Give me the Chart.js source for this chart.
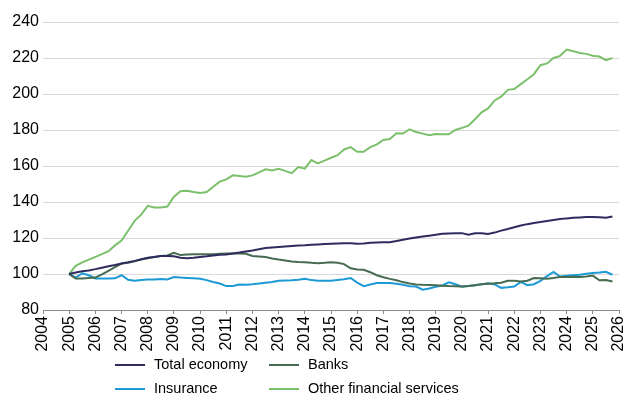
<!DOCTYPE html>
<html>
<head>
<meta charset="utf-8">
<script src="https://cdn.jsdelivr.net/npm/chart.js@4.4.1/dist/chart.umd.min.js"></script>
<style>
  html, body { margin: 0; padding: 0; background: #fff; }
  #wrap { width: 631px; height: 396px; }
</style>
</head>
<body>
<div id="wrap"><canvas id="chart"></canvas></div>
<script>
// quarterly index, 2005 Q1 = 100
var quarters = [];
for (var yr = 2005; yr <= 2025; yr++) {
  for (var q = 0; q < 4; q++) quarters.push(yr + q / 4);
}

var totalEconomy = [
  100, 100.8, 101.5, 102, 102.7, 103.5, 104.3, 105, 105.8, 106.5, 107.3, 108.2,
  109, 109.5, 110, 110, 109.8, 109, 108.7, 109, 109.4, 109.8, 110.3, 110.7,
  110.9, 111.4, 111.9, 112.5, 113.1, 113.8, 114.4, 114.7, 115, 115.3, 115.6, 115.9,
  116, 116.2, 116.4, 116.6, 116.8, 117, 117.1, 117.1, 116.8, 117, 117.3, 117.5,
  117.6, 117.7, 118.3, 119, 119.7, 120.3, 120.8, 121.3, 121.8, 122.3, 122.5, 122.7,
  122.7, 121.8, 122.6, 122.7, 122.2, 123, 124.1, 125, 126, 126.9, 127.7, 128.3,
  128.9, 129.5, 130, 130.5, 130.9, 131.2, 131.4, 131.6, 131.7, 131.5, 131.3, 132
];
var banks = [
  100, 97.5, 97.5, 97.8, 98, 99.8, 101.8, 103.8, 105.8, 106.3, 107, 108,
  108.8, 109.5, 110, 110.3, 111.8, 110.5, 110.8, 111, 111, 111, 111, 111.2,
  111.4, 111.4, 111.4, 111.2, 110, 109.7, 109.4, 108.6, 108, 107.5, 107, 106.7,
  106.5, 106.2, 106, 106.2, 106.5, 106.2, 105.5, 103.2, 102.5, 102.3, 101, 99.3,
  98.2, 97.3, 96.5, 95.5, 94.7, 94.2, 94, 93.9, 93.8, 93.5, 93.3, 93.2,
  93.1, 93.3, 93.8, 94.3, 94.6, 94.8, 95.1, 96.2, 96.2, 95.8, 96.3, 97.8,
  97.6, 97.3, 97.8, 98.4, 98.4, 98.5, 98.4, 98.6, 99.1, 96.5, 96.6, 95.8
];
var insurance = [
  100, 98, 100.4, 99.3, 97.5, 97.5, 97.5, 97.6, 99.3, 96.8, 96.3, 96.7,
  97, 97, 97.2, 97, 98.3, 98, 97.8, 97.6, 97.4, 96.6, 95.6, 94.7,
  93.3, 93.4, 94.1, 94, 94.3, 94.7, 95.2, 95.6, 96.2, 96.4, 96.5, 96.8,
  97.4, 96.6, 96.3, 96.2, 96.2, 96.7, 97.1, 97.8, 95.2, 93.2, 94.2, 95,
  95, 95, 94.6, 94, 93.2, 93, 91.3, 92, 92.9, 93.6, 95.4, 94.3,
  92.9, 93.3, 93.8, 94.3, 94.8, 94.2, 92.3, 92.6, 93, 95.6, 93.8, 94.3,
  96.2, 98.8, 101.2, 98.6, 99, 99.3, 99.6, 100.2, 100.5, 100.8, 101.2, 99.6
];
var otherFinancial = [
  100, 104.5, 106.5, 108, 109.5, 111, 112.7, 115.9, 118.6, 124, 129.5, 133,
  137.9, 137, 137, 137.5, 142.9, 146, 146.2, 145.5, 145, 145.5, 148.5, 151.3,
  152.6, 154.8, 154.5, 154, 154.8, 156.5, 158.2, 157.5, 158.5, 157.3, 156, 159.4,
  158.5, 163.3, 161.5, 163, 164.6, 166, 169.2, 170.5, 167.9, 167.9, 170.5, 172,
  174.5, 175, 178.2, 178, 180.4, 178.9, 178, 177.1, 177.8, 177.6, 177.6, 180,
  181.2, 182.4, 186, 189.8, 192, 196.4, 198.5, 202.3, 202.8, 205.5, 208.2, 211,
  216, 217, 220, 221.2, 224.7, 223.8, 222.8, 222.3, 221.3, 220.8, 218.8, 220
];

var seriesNames = ["Total economy", "Banks", "Insurance", "Other financial services"];
var seriesColors = ['#2e2c5f', '#466b51', '#1d9ad6', '#7cc06b'];
var seriesValues = [totalEconomy, banks, insurance, otherFinancial];

function points(values) {
  return values.map(function (v, i) { return { x: quarters[i], y: v }; });
}

// legend laid out as a 2x2 grid under the axis
var gridLegend = {
  id: 'gridLegend',
  afterDraw: function (chart) {
    var ctx = chart.ctx;
    var cols = [115, 269];
    var rows = [365, 389];
    chart.data.datasets.forEach(function (ds, i) {
      var x = cols[i % 2], y = rows[Math.floor(i / 2)];
      ctx.save();
      ctx.strokeStyle = ds.borderColor;
      ctx.lineWidth = 2;
      ctx.beginPath();
      ctx.moveTo(x, y);
      ctx.lineTo(x + 30, y);
      ctx.stroke();
      ctx.fillStyle = '#000';
      ctx.font = '14.5px "Liberation Sans", Arial, sans-serif';
      ctx.textBaseline = 'middle';
      ctx.textAlign = 'left';
      ctx.fillText(ds.label, x + 39, y);
      ctx.restore();
    });
  }
};

var chartGraph = new Chart(document.getElementById('chart'), {
  type: 'line',
  data: {
    datasets: seriesNames.map(function (name, i) {
      return {
        label: name,
        data: points(seriesValues[i]),
        borderColor: seriesColors[i],
        backgroundColor: seriesColors[i],
        borderWidth: 2,
        pointRadius: 0,
        tension: 0
      };
    })
  },
  options: {
    responsive: true,
    maintainAspectRatio: false,
    animation: false,
    layout: { padding: { left: 0, right: 12, top: 22, bottom: 0 } },
    plugins: {
      legend: { display: false },
      tooltip: { enabled: false }
    },
    scales: {
      x: {
        type: 'linear',
        min: 2004,
        max: 2026,
        afterFit: function (scale) {
          scale.height = 86;
          scale.paddingLeft = 0;
          scale.paddingRight = 0;
        },
        ticks: {
          stepSize: 1,
          autoSkip: false,
          minRotation: 90,
          maxRotation: 90,
          padding: 2,
          color: '#000',
          font: { family: '"Liberation Sans", Arial, sans-serif', size: 16 },
          callback: function (v) { return String(v); }
        },
        grid: { drawOnChartArea: false, drawTicks: true, tickLength: 4, color: '#8c8c8c' },
        border: { color: '#8c8c8c', width: 1 }
      },
      y: {
        min: 80,
        max: 240,
        afterFit: function (scale) { scale.width = 43; },
        ticks: {
          stepSize: 20,
          padding: 4,
          color: '#000',
          font: { family: '"Liberation Sans", Arial, sans-serif', size: 16 }
        },
        grid: { color: '#d9d9d9', drawTicks: false },
        border: { display: false }
      }
    }
  },
  plugins: [gridLegend]
});
</script>
</body>
</html>
